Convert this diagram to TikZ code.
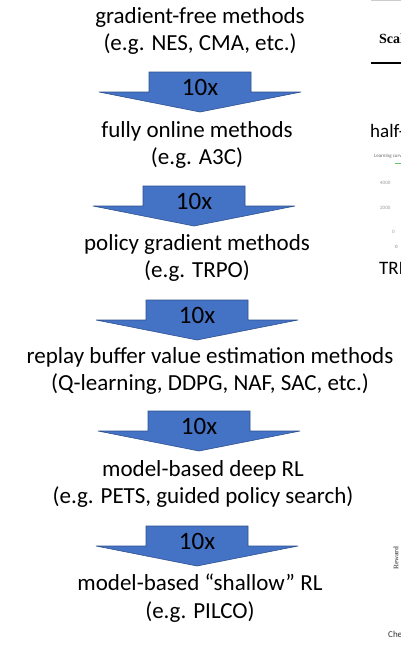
\documentclass[tikz,border=0pt]{standalone}
\usepackage{fontspec}
\setmainfont{Carlito}
\newfontfamily\serifside{Liberation Serif}
\definecolor{arrowfill}{HTML}{4472C4}
\definecolor{arrowline}{HTML}{2F528F}
\definecolor{txt}{HTML}{000000}
\begin{document}
\begin{tikzpicture}[x=1pt,y=-1pt,
  lbl/.style={font=\fontsize{23}{27.5}\selectfont, align=center, text=txt, inner sep=0pt},
  fac/.style={font=\fontsize{25}{25}\selectfont, text=txt, inner sep=0pt, anchor=base},
  side/.style={inner sep=0pt, anchor=west},
  blockarrow/.style={fill=arrowfill, draw=arrowline, line width=0.6pt, line join=miter}]
\useasboundingbox (0,0) rectangle (401,646);
\fill[white] (0,0) rectangle (401,646);

% block arrow macro: center x, top y
\newcommand{\blockarr}[3]{%
  \draw[blockarrow] (#1-51,#2) -- (#1+51,#2) -- (#1+51,#2+20) -- (#1+101,#2+20)
    -- (#1,#2+40) -- (#1-101,#2+20) -- (#1-51,#2+20) -- cycle;
  \node[fac] (#3) at (#1,#2+23.5) {10x};}

\node[lbl] (n1) at (200,31) {gradient-free methods\\(e.g. NES, CMA, etc.)};
\blockarr{200}{72}{a1}
\node[lbl] (n2) at (197,145) {fully online methods\\(e.g. A3C)};
\blockarr{194}{186}{a2}
\node[lbl] (n3) at (197,258) {policy gradient methods\\(e.g. TRPO)};
\blockarr{197}{300}{a3}
\node[lbl] (n4) at (210,371) {replay buffer value estimation methods\\(Q-learning, DDPG, NAF, SAC, etc.)};
\blockarr{199}{411}{a4}
\node[lbl] (n5) at (203,484) {model-based deep RL\\(e.g. PETS, guided policy search)};
\blockarr{197}{526}{a5}
\node[lbl] (n6) at (200,598) {model-based “shallow” RL\\(e.g. PILCO)};

% cropped fragments of the neighbouring slide at the right edge
\begin{scope}
\clip (0,0) rectangle (401,646);
\draw[gray!40, line width=0.8pt] (371,0.5) -- (401,0.5);
\node[side, font=\serifside\bfseries\fontsize{14}{14}\selectfont] (s1) at (379,40) {Scaling};
\draw[black, line width=1.2pt] (371,63) -- (401,63);
\node[side, font=\fontsize{19}{19}\selectfont] (s2) at (370,131) {half-cheetah};
\node[side, font=\fontsize{5}{5}\selectfont, text=black!60] (s3) at (374,156) {Learning curve};
\draw[green!60!black!60, line width=0.8pt] (395,163) -- (401,163);
\node[side, font=\fontsize{5}{5}\selectfont, text=black!40] (s4) at (380,183) {4000};
\node[side, font=\fontsize{5}{5}\selectfont, text=black!40] (s5) at (380,208) {2000};
\node[side, font=\fontsize{5}{5}\selectfont, text=black!40] (s6) at (392,232) {0};
\node[side, font=\fontsize{5}{5}\selectfont, text=black!50] (s7) at (395,247) {0};
\node[side, font=\fontsize{19}{19}\selectfont] (s8) at (379,268) {TRPO};
\node[font=\serifside\bfseries\fontsize{7}{7}\selectfont, text=black!60, rotate=90, inner sep=0pt] (s9) at (396,558) {Reward};
\node[side, font=\fontsize{9}{9}\selectfont, text=black!80] (s10) at (388,634) {Cheetah};
\end{scope}
\end{tikzpicture}
\end{document}
